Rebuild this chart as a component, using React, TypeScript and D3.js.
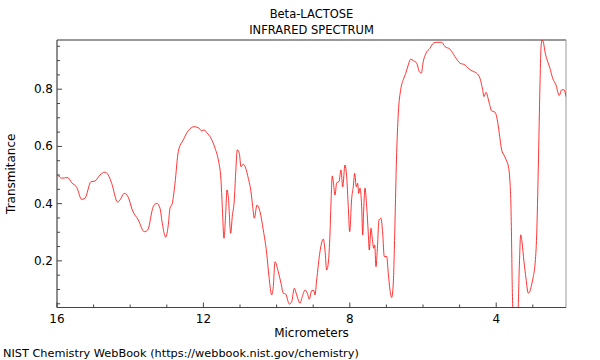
import React from 'react';
import * as d3 from 'd3';

const titleLine1 = 'Beta-LACTOSE';
const titleLine2 = 'INFRARED SPECTRUM';
const xAxisLabel = 'Micrometers';
const yAxisLabel = 'Transmitance';
const footerText = 'NIST Chemistry WebBook (https://webbook.nist.gov/chemistry)';

const xDomain = [16, 2.093];
const yDomain = [0.037, 0.972];
const xMajorTicks = [16, 12, 8, 4];
const xMinorTicks = [15, 14, 13, 11, 10, 9, 7, 6, 5, 3];
const yMajorTicks = [0.2, 0.4, 0.6, 0.8];
const yMinorTicks = [0.05, 0.1, 0.15, 0.25, 0.3, 0.35, 0.45, 0.5, 0.55, 0.65, 0.7, 0.75, 0.85, 0.9, 0.95];

const wavelength = [
  16.0, 15.981, 15.872, 15.708, 15.598, 15.462, 15.325, 15.235, 15.071, 14.962, 14.825, 14.689, 14.598, 14.506,
  14.342, 14.279, 14.161, 14.052, 13.943, 13.779, 13.615, 13.522, 13.369, 13.276, 13.186, 13.123, 13.03,
  12.959, 12.913, 12.85, 12.776, 12.686, 12.549, 12.413, 12.249, 12.12, 12.047, 11.976, 11.91, 11.793,
  11.683, 11.593, 11.52, 11.484, 11.438, 11.391, 11.356, 11.32, 11.254, 11.211, 11.156, 11.118, 11.074,
  11.019, 10.973, 10.91, 10.845, 10.774, 10.7, 10.653, 10.609, 10.536, 10.454, 10.364, 10.271, 10.208,
  10.134, 10.09, 10.044, 9.954, 9.88, 9.817, 9.752, 9.653, 9.588, 9.517, 9.451, 9.361, 9.298, 9.224,
  9.161, 9.107, 9.041, 8.979, 8.951, 8.905, 8.815, 8.724, 8.678, 8.632, 8.588, 8.541, 8.514, 8.479, 8.451,
  8.405, 8.358, 8.296, 8.241, 8.194, 8.132, 8.085, 8.042, 8.003, 7.948, 7.905, 7.867, 7.823, 7.785,
  7.758, 7.722, 7.676, 7.648, 7.621, 7.585, 7.539, 7.495, 7.468, 7.421, 7.386, 7.348, 7.32, 7.285,
  7.249, 7.203, 7.148, 7.102, 7.058, 6.992, 6.949, 6.902, 6.856, 6.812, 6.766, 6.725, 6.675, 6.61,
  6.539, 6.465, 6.402, 6.337, 6.266, 6.173, 6.102, 6.047, 5.992, 5.918, 5.809, 5.719, 5.626, 5.49,
  5.4, 5.263, 5.126, 4.99, 4.853, 4.763, 4.626, 4.533, 4.443, 4.37, 4.334, 4.279, 4.189, 4.124, 4.034,
  3.971, 3.916, 3.851, 3.788, 3.714, 3.67, 3.624, 3.596, 3.577, 3.561, 3.542, 3.474, 3.405, 3.37,
  3.331, 3.296, 3.241, 3.186, 3.124, 3.077, 3.023, 2.987, 2.94, 2.894, 2.85, 2.804, 2.777, 2.749,
  2.714, 2.668, 2.594, 2.531, 2.457, 2.367, 2.277, 2.211, 2.148, 2.093,
];

const transmittance = [
  0.502, 0.5, 0.489, 0.491, 0.473, 0.457, 0.415, 0.419, 0.477, 0.479, 0.5, 0.51, 0.5, 0.471,
  0.405, 0.413, 0.436, 0.422, 0.378, 0.343, 0.302, 0.308, 0.39, 0.401, 0.384, 0.331, 0.283,
  0.326, 0.384, 0.401, 0.471, 0.582, 0.623, 0.655, 0.669, 0.664, 0.654, 0.658, 0.648, 0.629,
  0.594, 0.553, 0.483, 0.39, 0.279, 0.366, 0.448, 0.424, 0.297, 0.355, 0.413, 0.506, 0.588,
  0.576, 0.529, 0.538, 0.524, 0.489, 0.442, 0.39, 0.349, 0.395, 0.372, 0.308, 0.227, 0.145,
  0.081, 0.11, 0.197, 0.162, 0.122, 0.087, 0.084, 0.049, 0.057, 0.104, 0.081, 0.052, 0.075, 0.098,
  0.087, 0.066, 0.096, 0.096, 0.081, 0.133, 0.232, 0.276, 0.238, 0.168, 0.192, 0.297, 0.401, 0.497, 0.477,
  0.43, 0.473, 0.477, 0.518, 0.459, 0.535, 0.494, 0.39, 0.302, 0.419, 0.459, 0.506, 0.459, 0.471,
  0.436, 0.454, 0.39, 0.291, 0.378, 0.454, 0.39, 0.297, 0.238, 0.314, 0.279, 0.244, 0.256, 0.18,
  0.238, 0.343, 0.349, 0.297, 0.215, 0.215, 0.157, 0.098, 0.072, 0.122, 0.331, 0.553, 0.716, 0.798,
  0.833, 0.858, 0.885, 0.905, 0.9, 0.891, 0.862, 0.856, 0.897, 0.926, 0.943, 0.961, 0.964, 0.964,
  0.949, 0.94, 0.914, 0.891, 0.885, 0.873, 0.862, 0.856, 0.838, 0.798, 0.774, 0.789, 0.751, 0.724, 0.72,
  0.693, 0.646, 0.588, 0.57, 0.549, 0.532, 0.477, 0.384, 0.244, 0.104, 0.028, 0.021, 0.028, 0.174,
  0.291, 0.267, 0.197, 0.139, 0.087, 0.095, 0.122, 0.145, 0.186, 0.291, 0.524, 0.815, 0.943, 0.972,
  0.966, 0.931, 0.897, 0.873, 0.838, 0.815, 0.778, 0.798, 0.798, 0.774,
];

const W = 600;
const H = 360;
const plot = { left: 57, right: 566, top: 40, bottom: 307.5 };
const font = 'DejaVu Sans, sans-serif';

export default function App() {
  const x = d3.scaleLinear().domain(xDomain).range([plot.left, plot.right]);
  const y = d3.scaleLinear().domain(yDomain).range([plot.bottom, plot.top]);
  const points: [number, number][] = wavelength.map((w, i) => [w, transmittance[i]]);
  const line = d3
    .line<[number, number]>()
    .x((d) => x(d[0]))
    .y((d) => y(d[1]))
    .curve(d3.curveMonotoneX);
  const path = line(points) || '';
  const cx = (plot.left + plot.right) / 2;
  const cy = (plot.top + plot.bottom) / 2;

  return (
    <svg
      width={W}
      height={H}
      viewBox={`0 0 ${W} ${H}`}
      style={{ position: 'absolute', left: 0, top: 0, display: 'block', background: '#fff' }}
      fontFamily={font}
    >
      <defs>
        <clipPath id="plotClip">
          <rect x={plot.left} y={plot.top} width={plot.right - plot.left} height={plot.bottom - plot.top} />
        </clipPath>
      </defs>
      <rect width={W} height={H} fill="#fff" />
      <text x={cx} y={18} textAnchor="middle" fontSize={11.5} fill="#000">{titleLine1}</text>
      <text x={cx} y={34} textAnchor="middle" fontSize={11.5} fill="#000">{titleLine2}</text>

      {/* frame */}
      <line x1={plot.left} x2={plot.right} y1={plot.top} y2={plot.top} stroke="#999" strokeWidth={2} />
      <line x1={plot.right} x2={plot.right} y1={plot.top} y2={plot.bottom} stroke="#999" strokeWidth={1} />
      <line x1={plot.left} x2={plot.left} y1={plot.top} y2={plot.bottom} stroke="#444" strokeWidth={1.2} />
      <line x1={plot.left} x2={plot.right} y1={plot.bottom} y2={plot.bottom} stroke="#444" strokeWidth={1.2} />

      {/* y ticks */}
      {yMinorTicks.map((t) => (
        <line key={'ym' + t} x1={plot.left} x2={plot.left + 3} y1={y(t)} y2={y(t)} stroke="#444" />
      ))}
      {yMajorTicks.map((t) => (
        <g key={'yM' + t}>
          <line x1={plot.left} x2={plot.left + 5} y1={y(t)} y2={y(t)} stroke="#444" />
          <text x={plot.left - 4} y={y(t) + 4} textAnchor="end" fontSize={12} fill="#000">
            {d3.format('.1f')(t)}
          </text>
        </g>
      ))}

      {/* x ticks */}
      {xMinorTicks.map((t) => (
        <line key={'xm' + t} x1={x(t)} x2={x(t)} y1={plot.bottom} y2={plot.bottom - 3} stroke="#444" />
      ))}
      {xMajorTicks.map((t) => (
        <g key={'xM' + t}>
          <line x1={x(t)} x2={x(t)} y1={plot.bottom} y2={plot.bottom - 5} stroke="#444" />
          <text x={x(t)} y={323} textAnchor="middle" fontSize={12} fill="#000">
            {String(t)}
          </text>
        </g>
      ))}

      <text x={cx} y={337} textAnchor="middle" fontSize={12} fill="#000">{xAxisLabel}</text>
      <text
        x={0}
        y={0}
        transform={`translate(15, ${cy}) rotate(-90)`}
        textAnchor="middle"
        fontSize={12}
        fill="#000"
      >
        {yAxisLabel}
      </text>
      <text x={3} y={357} fontSize={11.3} fill="#000">{footerText}</text>

      <path d={path} fill="none" stroke="#ff0000" strokeWidth={0.8} clipPath="url(#plotClip)" />
    </svg>
  );
}
